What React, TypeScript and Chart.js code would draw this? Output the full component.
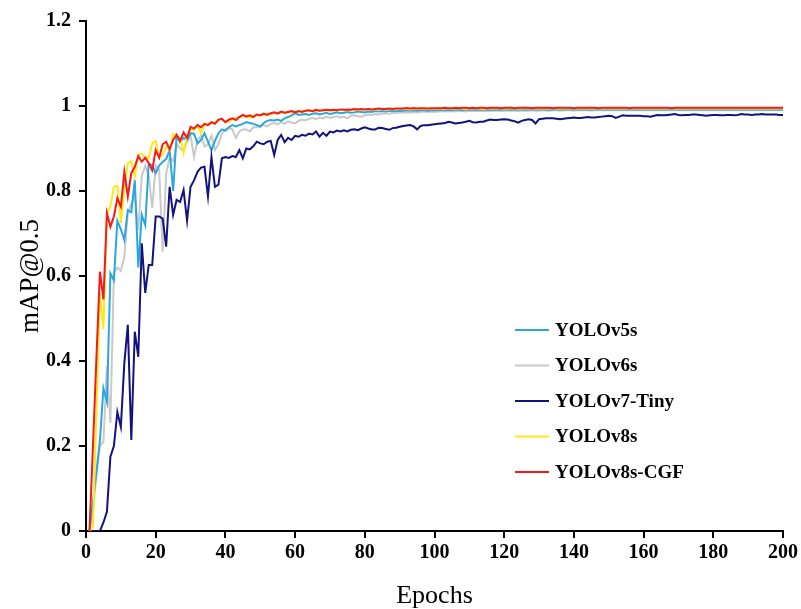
import React, { useEffect, useRef } from "react";
import { Chart, registerables } from "chart.js";

Chart.register(...registerables);

const seriesNames = ["YOLOv5s", "YOLOv6s", "YOLOv7-Tiny", "YOLOv8s", "YOLOv8s-CGF"];
const seriesColors = ["#2AA7DF", "#C9C9C9", "#13137E", "#FFE81A", "#F5191C"];

const epochs = Array.from({ length: 200 }, (_, i) => i + 1);
const xTicks = [0, 20, 40, 60, 80, 100, 120, 140, 160, 180, 200];
const yTicks = [0, 0.2, 0.4, 0.6, 0.8, 1, 1.2];

const yolov5s = [
  0, 0.07, 0.14, 0.214, 0.336, 0.304, 0.606, 0.59, 0.73, 0.71,
  0.685, 0.755, 0.75, 0.826, 0.62, 0.744, 0.72, 0.865, 0.86, 0.842,
  0.86, 0.868, 0.875, 0.896, 0.8, 0.93, 0.915, 0.925, 0.92, 0.936,
  0.935, 0.912, 0.92, 0.936, 0.916, 0.896, 0.918, 0.936, 0.945, 0.942,
  0.95, 0.955, 0.952, 0.955, 0.958, 0.962, 0.96, 0.958, 0.955, 0.951,
  0.96, 0.965, 0.967, 0.966, 0.968, 0.965, 0.971, 0.974, 0.978, 0.983,
  0.979, 0.98, 0.981, 0.979, 0.982, 0.983, 0.98, 0.982, 0.984, 0.981,
  0.983, 0.985, 0.983, 0.984, 0.986, 0.984, 0.985, 0.987, 0.986, 0.985,
  0.987, 0.986, 0.988, 0.987, 0.988, 0.987, 0.989, 0.988, 0.989, 0.988,
  0.989, 0.99, 0.989, 0.99, 0.989, 0.99, 0.99, 0.989, 0.99, 0.99,
  0.99, 0.991, 0.99, 0.991, 0.99, 0.991, 0.991, 0.99, 0.991, 0.991,
  0.991, 0.991, 0.992, 0.991, 0.991, 0.992, 0.991, 0.992, 0.991, 0.992,
  0.992, 0.991, 0.992, 0.992, 0.992, 0.991, 0.992, 0.992, 0.992, 0.992,
  0.992, 0.992, 0.991, 0.992, 0.992, 0.992, 0.992, 0.992, 0.992, 0.992,
  0.992, 0.992, 0.992, 0.992, 0.992, 0.992, 0.992, 0.992, 0.992, 0.992,
  0.992, 0.992, 0.992, 0.992, 0.992, 0.992, 0.992, 0.992, 0.992, 0.992,
  0.992, 0.992, 0.992, 0.992, 0.992, 0.992, 0.992, 0.992, 0.992, 0.992,
  0.992, 0.992, 0.992, 0.992, 0.992, 0.992, 0.992, 0.992, 0.992, 0.992,
  0.992, 0.992, 0.992, 0.992, 0.992, 0.992, 0.992, 0.992, 0.992, 0.992,
  0.992, 0.992, 0.992, 0.992, 0.992, 0.992, 0.992, 0.992, 0.992, 0.992,
];

const yolov6s = [
  0, 0.05, 0.13, 0.2, 0.21, 0.387, 0.254, 0.607, 0.62, 0.612,
  0.645, 0.75, 0.77, 0.79, 0.708, 0.835, 0.86, 0.835, 0.76, 0.86,
  0.85, 0.657, 0.84, 0.88, 0.87, 0.91, 0.9, 0.895, 0.915, 0.93,
  0.88, 0.92, 0.93, 0.905, 0.91, 0.93, 0.896, 0.91, 0.935, 0.945,
  0.948, 0.945, 0.925, 0.94, 0.945, 0.945, 0.94, 0.95, 0.95, 0.955,
  0.955, 0.952, 0.958, 0.96, 0.957, 0.962, 0.958, 0.964, 0.961, 0.959,
  0.965, 0.968, 0.966, 0.97, 0.972, 0.969, 0.973, 0.971, 0.975, 0.972,
  0.974, 0.976, 0.973, 0.975, 0.971, 0.977, 0.978, 0.976, 0.975, 0.978,
  0.98, 0.979, 0.981, 0.98, 0.982, 0.983, 0.982, 0.984, 0.983, 0.985,
  0.984, 0.985, 0.984, 0.986, 0.985, 0.986, 0.987, 0.986, 0.987, 0.986,
  0.987, 0.987, 0.988, 0.987, 0.988, 0.987, 0.988, 0.988, 0.987, 0.988,
  0.988, 0.989, 0.988, 0.988, 0.989, 0.988, 0.989, 0.989, 0.988, 0.989,
  0.989, 0.989, 0.989, 0.988, 0.989, 0.989, 0.989, 0.99, 0.989, 0.989,
  0.99, 0.989, 0.989, 0.99, 0.99, 0.989, 0.99, 0.99, 0.99, 0.989,
  0.99, 0.99, 0.99, 0.99, 0.989, 0.99, 0.99, 0.99, 0.99, 0.99,
  0.99, 0.99, 0.99, 0.99, 0.99, 0.99, 0.99, 0.99, 0.99, 0.99,
  0.99, 0.99, 0.99, 0.99, 0.99, 0.99, 0.99, 0.99, 0.99, 0.99,
  0.99, 0.99, 0.99, 0.99, 0.99, 0.99, 0.99, 0.99, 0.99, 0.99,
  0.99, 0.99, 0.99, 0.99, 0.99, 0.99, 0.99, 0.99, 0.99, 0.99,
  0.99, 0.99, 0.99, 0.99, 0.99, 0.99, 0.99, 0.99, 0.99, 0.99,
];

const yolov7tiny = [
  0, 0, 0, 0, 0.02, 0.045, 0.175, 0.2, 0.28, 0.245,
  0.395, 0.485, 0.214, 0.469, 0.41, 0.677, 0.56, 0.626, 0.626, 0.74,
  0.74, 0.735, 0.669, 0.81, 0.744, 0.779, 0.774, 0.802, 0.73, 0.81,
  0.825, 0.845, 0.855, 0.857, 0.787, 0.88, 0.81, 0.815, 0.877, 0.88,
  0.878, 0.882, 0.88, 0.896, 0.877, 0.9, 0.898, 0.905, 0.916, 0.912,
  0.91, 0.916, 0.918, 0.885, 0.92, 0.932, 0.915, 0.925, 0.92, 0.93,
  0.928, 0.932, 0.93, 0.935, 0.933, 0.94, 0.928, 0.937, 0.93, 0.94,
  0.938, 0.942, 0.94, 0.943, 0.94, 0.944, 0.945, 0.943, 0.947, 0.95,
  0.947, 0.945, 0.945, 0.949, 0.948, 0.946, 0.944, 0.948, 0.949, 0.951,
  0.953, 0.954, 0.955, 0.952, 0.945, 0.953, 0.955, 0.955, 0.956, 0.957,
  0.958, 0.959, 0.96, 0.963, 0.961, 0.959, 0.96, 0.961, 0.963, 0.965,
  0.962, 0.961, 0.963, 0.963, 0.966, 0.968, 0.967, 0.967, 0.968, 0.969,
  0.968, 0.966, 0.964, 0.961, 0.965, 0.967, 0.969, 0.967, 0.959, 0.969,
  0.97, 0.971, 0.971, 0.971, 0.97, 0.969, 0.97, 0.971, 0.972, 0.973,
  0.972, 0.972, 0.973, 0.974, 0.973, 0.973, 0.974, 0.975, 0.976, 0.977,
  0.976, 0.972, 0.975, 0.978, 0.977, 0.977, 0.977, 0.977, 0.977, 0.976,
  0.976, 0.975, 0.977, 0.979, 0.978, 0.978, 0.979, 0.98, 0.981, 0.979,
  0.978, 0.979, 0.979, 0.98, 0.98, 0.979, 0.978, 0.977, 0.978, 0.979,
  0.979, 0.978, 0.978, 0.979, 0.979, 0.978, 0.979, 0.981, 0.98, 0.98,
  0.979, 0.98, 0.98, 0.981, 0.98, 0.98, 0.98, 0.98, 0.979, 0.979,
];

const yolov8s = [
  0, 0.01, 0.28, 0.56, 0.475, 0.745, 0.763, 0.81, 0.812, 0.725,
  0.805, 0.866, 0.87, 0.834, 0.886, 0.887, 0.88, 0.877, 0.912, 0.918,
  0.88, 0.885, 0.905, 0.895, 0.934, 0.93, 0.925, 0.889, 0.93, 0.945,
  0.943, 0.955, 0.936, 0.955, 0.958, 0.96, 0.962, 0.965, 0.97, 0.962,
  0.963, 0.97, 0.972, 0.975, 0.976, 0.978, 0.972, 0.978, 0.977, 0.98,
  0.978, 0.982, 0.98, 0.983, 0.984, 0.985, 0.983, 0.986, 0.985, 0.987,
  0.986, 0.988, 0.987, 0.988, 0.989, 0.988, 0.99, 0.989, 0.99, 0.99,
  0.989, 0.991, 0.99, 0.991, 0.99, 0.991, 0.991, 0.992, 0.991, 0.992,
  0.992, 0.991, 0.992, 0.992, 0.993, 0.992, 0.992, 0.993, 0.992, 0.993,
  0.993, 0.993, 0.992, 0.993, 0.993, 0.994, 0.993, 0.993, 0.994, 0.993,
  0.994, 0.993, 0.994, 0.994, 0.993, 0.994, 0.994, 0.994, 0.993, 0.994,
  0.994, 0.994, 0.994, 0.993, 0.994, 0.994, 0.994, 0.994, 0.994, 0.994,
  0.994, 0.994, 0.994, 0.994, 0.994, 0.994, 0.994, 0.994, 0.994, 0.994,
  0.994, 0.994, 0.994, 0.994, 0.994, 0.994, 0.994, 0.994, 0.994, 0.994,
  0.994, 0.994, 0.994, 0.994, 0.994, 0.994, 0.994, 0.994, 0.994, 0.994,
  0.994, 0.994, 0.994, 0.994, 0.994, 0.994, 0.994, 0.994, 0.994, 0.994,
  0.994, 0.994, 0.994, 0.994, 0.994, 0.994, 0.994, 0.994, 0.994, 0.994,
  0.994, 0.994, 0.994, 0.994, 0.994, 0.994, 0.994, 0.994, 0.994, 0.994,
  0.994, 0.994, 0.994, 0.994, 0.994, 0.994, 0.994, 0.994, 0.994, 0.994,
  0.994, 0.994, 0.994, 0.994, 0.994, 0.994, 0.994, 0.994, 0.994, 0.994,
];

const yolov8sCGF = [
  0, 0.2, 0.41, 0.61, 0.545, 0.748, 0.716, 0.74, 0.783, 0.763,
  0.845, 0.787, 0.842, 0.857, 0.882, 0.869, 0.878, 0.866, 0.849, 0.896,
  0.878, 0.91, 0.916, 0.898, 0.92, 0.932, 0.918, 0.938, 0.925, 0.951,
  0.947, 0.955, 0.95, 0.958, 0.955, 0.962, 0.958, 0.968, 0.97, 0.962,
  0.968, 0.971, 0.967, 0.974, 0.979, 0.975, 0.978, 0.974, 0.98, 0.978,
  0.982, 0.979, 0.983, 0.985, 0.982, 0.987, 0.984, 0.986, 0.988, 0.985,
  0.988, 0.986, 0.989, 0.99, 0.988, 0.991, 0.989, 0.99, 0.991, 0.99,
  0.991, 0.99, 0.992, 0.991, 0.992, 0.991, 0.993, 0.992, 0.993, 0.992,
  0.993, 0.992, 0.993, 0.994, 0.993, 0.993, 0.994, 0.993, 0.994, 0.994,
  0.994, 0.995, 0.994, 0.995, 0.994, 0.995, 0.995, 0.994, 0.995, 0.995,
  0.995, 0.995, 0.996, 0.995, 0.995, 0.996, 0.995, 0.996, 0.996, 0.995,
  0.996, 0.995, 0.996, 0.996, 0.995, 0.996, 0.996, 0.996, 0.995, 0.996,
  0.996, 0.996, 0.995, 0.996, 0.996, 0.996, 0.996, 0.995, 0.996, 0.996,
  0.996, 0.996, 0.996, 0.995, 0.996, 0.996, 0.996, 0.996, 0.996, 0.995,
  0.996, 0.996, 0.996, 0.996, 0.996, 0.996, 0.995, 0.996, 0.996, 0.996,
  0.996, 0.996, 0.996, 0.996, 0.996, 0.995, 0.996, 0.996, 0.996, 0.996,
  0.996, 0.996, 0.996, 0.996, 0.996, 0.996, 0.996, 0.995, 0.996, 0.996,
  0.996, 0.996, 0.996, 0.996, 0.996, 0.996, 0.996, 0.996, 0.996, 0.996,
  0.996, 0.996, 0.996, 0.996, 0.996, 0.996, 0.996, 0.996, 0.996, 0.996,
  0.996, 0.996, 0.996, 0.996, 0.996, 0.996, 0.996, 0.996, 0.996, 0.996,
];

const seriesValues = [yolov5s, yolov6s, yolov7tiny, yolov8s, yolov8sCGF];
const drawOrder = [3, 4, 2, 1, 0];

const SERIF = '"Liberation Serif", "Times New Roman", serif';

const inlineLegend = {
  id: "inlineLegend",
  afterDraw(chart: any) {
    const ctx = chart.ctx;
    ctx.save();
    ctx.font = `bold 19px ${SERIF}`;
    ctx.textBaseline = "middle";
    ctx.textAlign = "left";
    seriesNames.forEach((name, i) => {
      const y = 330 + i * 35.5;
      ctx.strokeStyle = seriesColors[i];
      ctx.lineWidth = 2;
      ctx.beginPath();
      ctx.moveTo(515, y);
      ctx.lineTo(549, y);
      ctx.stroke();
      ctx.fillStyle = "#000";
      ctx.fillText(name, 555, y + 1);
    });
    ctx.restore();
  },
};

export default function App() {
  const ref = useRef<HTMLCanvasElement>(null);
  useEffect(() => {
    document.body.style.margin = "0";
    document.body.style.overflow = "hidden";
    const canvas = ref.current!;
    const chart = new Chart(canvas, {
      type: "line",
      data: {
        datasets: seriesNames.map((name, i) => ({
          label: name,
          data: seriesValues[i].map((v, j) => ({ x: epochs[j], y: v })),
          borderColor: seriesColors[i],
          backgroundColor: seriesColors[i],
          borderWidth: 2,
          pointRadius: 0,
          tension: 0,
          fill: false,
          order: drawOrder[i],
        })),
      },
      options: {
        responsive: false,
        animation: false,
        layout: { padding: { top: 21, right: 16, left: 0, bottom: 0 } },
        plugins: { legend: { display: false }, tooltip: { enabled: false } },
        scales: {
          x: {
            type: "linear",
            min: 0,
            max: 200,
            afterBuildTicks: (s: any) => {
              s.ticks = xTicks.map((v) => ({ value: v }));
            },
            ticks: {
              color: "#000",
              font: { family: SERIF, size: 20, weight: "bold" },
              padding: 3,
              maxRotation: 0,
              autoSkip: false,
            },
            grid: {
              drawOnChartArea: false,
              drawTicks: true,
              tickLength: 7,
              color: "#000",
              lineWidth: 2,
            },
            border: { color: "#000", width: 2 },
            title: {
              display: true,
              text: "Epochs",
              color: "#000",
              font: { family: SERIF, size: 26, lineHeight: 1 },
              padding: { top: 0, bottom: 0 },
            },
            afterFit: (s: any) => {
              s.height = 78;
            },
          },
          y: {
            type: "linear",
            min: 0,
            max: 1.2,
            afterBuildTicks: (s: any) => {
              s.ticks = yTicks.map((v) => ({ value: v }));
            },
            ticks: {
              color: "#000",
              font: { family: SERIF, size: 20, weight: "bold" },
              padding: 8,
              autoSkip: false,
              callback: (v: any) => String(Math.round(Number(v) * 10) / 10),
            },
            grid: {
              drawOnChartArea: false,
              drawTicks: true,
              tickLength: 7,
              color: "#000",
              lineWidth: 2,
            },
            border: { color: "#000", width: 2 },
            title: {
              display: true,
              text: "mAP@0.5",
              color: "#000",
              font: { family: SERIF, size: 27, lineHeight: 1 },
              padding: { top: 17, bottom: 0 },
            },
            afterFit: (s: any) => {
              s.width = 86;
            },
          },
        },
      },
      plugins: [inlineLegend],
    } as any);
    return () => chart.destroy();
  }, []);
  return (
    <div style={{ width: 801, height: 609 }}>
      <canvas ref={ref} width={801} height={609} />
    </div>
  );
}
